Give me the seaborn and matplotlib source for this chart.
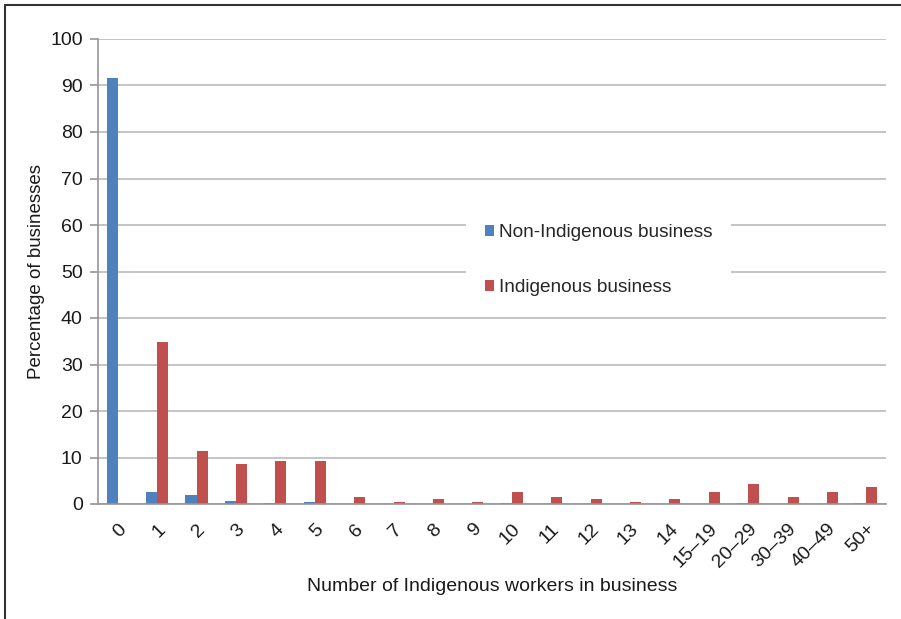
import matplotlib
matplotlib.use("Agg")
import matplotlib.pyplot as plt
import seaborn as sns
import pandas as pd
from matplotlib.lines import Line2D

categories = ["0", "1", "2", "3", "4", "5", "6", "7", "8", "9", "10", "11", "12", "13", "14",
              "15\u201319", "20\u201329", "30\u201339", "40\u201349", "50+"]
non_indigenous = [91.6, 2.6, 1.9, 0.6, 0.2, 0.5, 0.0, 0.0, 0.0, 0.0, 0.2, 0.0, 0.0, 0.0, 0.0,
                  0.05, 0.2, 0.0, 0.0, 0.2]
indigenous = [0.0, 34.8, 11.3, 8.6, 9.2, 9.2, 1.5, 0.4, 1.0, 0.4, 2.6, 1.5, 1.0, 0.4, 1.0,
              2.6, 4.3, 1.5, 2.6, 3.7]
series_names = ["Non-Indigenous business", "Indigenous business"]
colors = ["#4f81bd", "#c0504d"]

df = pd.DataFrame({
    "cat": categories * 2,
    "val": non_indigenous + indigenous,
    "series": [series_names[0]] * len(categories) + [series_names[1]] * len(categories),
})

sns.set_theme(style="white")
plt.rcParams["font.family"] = ["Liberation Sans", "DejaVu Sans"]

FS = 14
fig = plt.figure(figsize=(9.01, 6.19), dpi=100)
ax = fig.add_axes([98 / 901, 1 - 504 / 619, (886 - 98) / 901, (504 - 39) / 619])

sns.barplot(data=df, x="cat", y="val", hue="series", order=categories,
            hue_order=series_names, palette=colors, width=0.56, gap=0,
            saturation=1, edgecolor="none", ax=ax, legend=True)

ax.set_xlim(-0.5, len(categories) - 0.5)
ax.set_ylim(0, 100)
ax.set_yticks(range(0, 101, 10))
ax.yaxis.grid(True, color="#bfbfbf", linewidth=1.3)
ax.set_axisbelow(True)
for s in ["top", "right"]:
    ax.spines[s].set_visible(False)
for s in ["left", "bottom"]:
    ax.spines[s].set_color("#969696")
    ax.spines[s].set_linewidth(1.2)

# tick marks at category boundaries
ax.set_xticks([i - 0.5 for i in range(len(categories) + 1)], minor=True)
ax.tick_params(axis="x", which="minor", length=6, color="#969696", width=1.2, direction="out")
ax.tick_params(axis="x", which="major", length=0, labelsize=FS, colors="#1a1a1a", pad=12)
ax.tick_params(axis="y", which="major", length=6, color="#969696", width=1.2,
               direction="out", labelsize=FS, labelcolor="#1a1a1a", left=True, pad=5)
ax.set_xticks(range(len(categories)))
ax.set_xticklabels(categories, rotation=45, ha="right", rotation_mode="anchor")

ax.set_xlabel("Number of Indigenous workers in business", fontsize=FS, color="#1a1a1a", labelpad=5)
ax.set_ylabel("Percentage of businesses", fontsize=FS - 0.5, color="#1a1a1a", labelpad=4)

leg = ax.legend(loc="center left", bbox_to_anchor=(456 / 901, 1 - 260 / 619),
                bbox_transform=fig.transFigure, frameon=True, facecolor="white",
                edgecolor="white", framealpha=1, fontsize=FS - 0.3, handlelength=0.5,
                handleheight=0.5, handletextpad=0.25, labelspacing=2.0, borderpad=1.0)
leg.get_frame().set_linewidth(0)

# figure border (top and left)
fig.add_artist(Line2D([5 / 901, 1], [1 - 5 / 619, 1 - 5 / 619], transform=fig.transFigure,
                      color="#333333", linewidth=1.5))
fig.add_artist(Line2D([5 / 901, 5 / 901], [0, 1 - 5 / 619], transform=fig.transFigure,
                      color="#333333", linewidth=1.5))

fig.savefig("out.png", dpi=100)
